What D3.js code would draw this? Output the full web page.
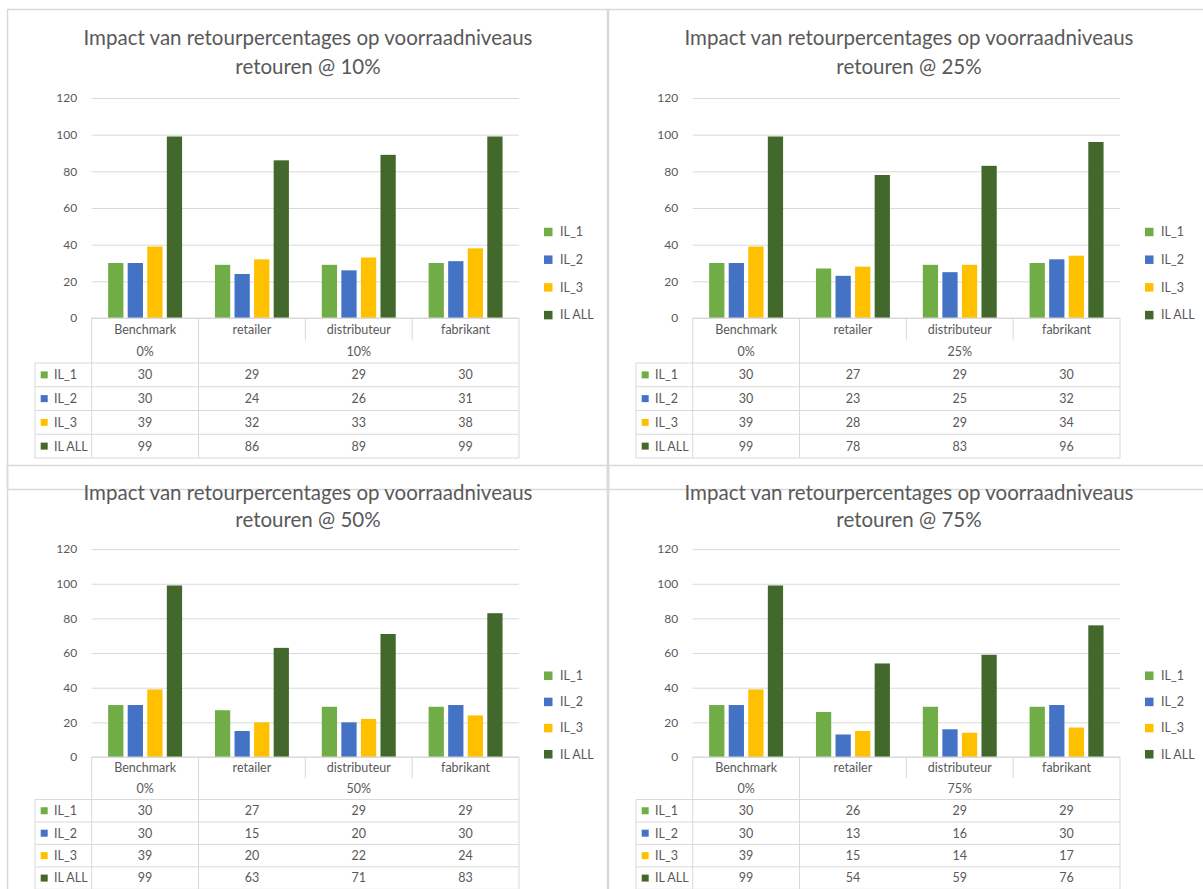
<!DOCTYPE html>
<html>
<head>
<meta charset="utf-8">
<script src="https://cdn.jsdelivr.net/npm/d3@7"></script>
<style>
  body { margin: 0; background: #fff; }
  svg text { font-family: Lato, "Open Sans", sans-serif; fill: #595959; }
</style>
</head>
<body>
<div id="grafiek"></div>
<script>
// Data
const categorieen = ["Benchmark", "retailer", "distributeur", "fabrikant"]
const reeksen = ["IL_1", "IL_2", "IL_3", "IL ALL"]
const kleuren = ["#70ad47", "#4472c4", "#ffc000", "#43682b"]
const yTicks = [0, 20, 40, 60, 80, 100, 120]
const titel = "Impact van retourpercentages op voorraadniveaus"

// rijen: IL_1, IL_2, IL_3, IL ALL / kolommen: categorieen
const waarden10 = [
  [30, 29, 29, 30],
  [30, 24, 26, 31],
  [39, 32, 33, 38],
  [99, 86, 89, 99],
]
const waarden25 = [
  [30, 27, 29, 30],
  [30, 23, 25, 32],
  [39, 28, 29, 34],
  [99, 78, 83, 96],
]
const waarden50 = [
  [30, 27, 29, 29],
  [30, 15, 20, 30],
  [39, 20, 22, 24],
  [99, 63, 71, 83],
]
const waarden75 = [
  [30, 26, 29, 29],
  [30, 13, 16, 30],
  [39, 15, 14, 17],
  [99, 54, 59, 76],
]

const svg = d3
  .select("#grafiek")
  .append("svg")
  .attr("width", 1203)
  .attr("height", 889)

const lijn = "#d9d9d9"
const fs = "12.5px"

const draw = (x0, y0, sy, retour, waarden) => {
  const Y = (v) => v * sy
  const g = svg.append("g").attr("transform", `translate(${x0}, ${y0})`)

  // kader
  g.append("rect")
    .attr("x", 0.5)
    .attr("y", 0.5)
    .attr("width", 600)
    .attr("height", 480)
    .attr("fill", "none")
    .attr("stroke", lijn)
    .attr("stroke-width", 1.5)

  // titel
  g.append("text")
    .attr("x", 301)
    .attr("y", Y(29))
    .attr("dy", "0.35em")
    .attr("text-anchor", "middle")
    .style("font-size", "20.5px")
    .text(titel)
  g.append("text")
    .attr("x", 301)
    .attr("y", Y(58))
    .attr("dy", "0.35em")
    .attr("text-anchor", "middle")
    .style("font-size", "20.5px")
    .text("retouren @ " + retour)

  // schalen
  const x = d3.scaleBand().domain(categorieen).range([84.7, 512])
  const x1 = d3
    .scaleBand()
    .domain(reeksen)
    .range([0, x.bandwidth()])
    .paddingInner(0.22)
    .paddingOuter(0.84)
  const y = d3.scaleLinear().domain([0, 120]).range([Y(309), Y(89)])

  // rasterlijnen + labels
  const as = g
    .append("g")
    .attr("transform", `translate(${x.range()[0]}, 0)`)
    .call(
      d3
        .axisLeft(y)
        .tickValues(yTicks)
        .tickSize(-(x.range()[1] - x.range()[0]))
        .tickPadding(14.5)
    )
  as.select(".domain").remove()
  as.selectAll("line").attr("stroke", lijn)
  as.selectAll("text").style("font-size", "12px").attr("fill", "#595959")

  // staven
  reeksen.forEach((r, j) => {
    g.append("g")
      .selectAll("rect")
      .data(waarden[j])
      .join("rect")
      .attr("x", (d, i) => x(categorieen[i]) + x1(r))
      .attr("y", (d) => y(d))
      .attr("width", x1.bandwidth())
      .attr("height", (d) => y(0) - y(d))
      .attr("fill", kleuren[j])
  })

  // tabel
  const top = Y(309)
  const h1 = Y(331.5)
  const rijen = [354, 377.75, 401.5, 425.25, 449].map(Y)
  const links = 28
  const [xa, xb] = x.range()
  const t = g.append("g").attr("stroke", lijn).attr("stroke-width", 1)
  const hl = (x1_, x2_, yy) =>
    t.append("line").attr("x1", x1_).attr("x2", x2_).attr("y1", yy).attr("y2", yy)
  const vl = (xx, y1_, y2_) =>
    t.append("line").attr("x1", xx).attr("x2", xx).attr("y1", y1_).attr("y2", y2_)

  hl(xa, xb, top)
  rijen.forEach((ry) => hl(links, xb, ry))
  vl(links, rijen[0], rijen[4])
  vl(xa, top, rijen[4])
  vl(x("retailer"), top, rijen[4])
  vl(x("distributeur"), top, h1)
  vl(x("fabrikant"), top, h1)
  vl(xb, top, rijen[4])

  // koppen
  g.append("g")
    .selectAll("text")
    .data(categorieen)
    .join("text")
    .attr("x", (d) => x(d) + x.bandwidth() / 2)
    .attr("y", (top + h1) / 2)
    .attr("dy", "0.35em")
    .attr("text-anchor", "middle")
    .style("font-size", fs)
    .text((d) => d)

  const midden = (h1 + rijen[0]) / 2
  g.append("text")
    .attr("x", x("Benchmark") + x.bandwidth() / 2)
    .attr("y", midden)
    .attr("dy", "0.35em")
    .attr("text-anchor", "middle")
    .style("font-size", fs)
    .text("0%")
  g.append("text")
    .attr("x", (x("retailer") + xb) / 2)
    .attr("y", midden)
    .attr("dy", "0.35em")
    .attr("text-anchor", "middle")
    .style("font-size", fs)
    .text(retour)

  // rijen met waarden
  reeksen.forEach((r, j) => {
    const cy = (rijen[j] + rijen[j + 1]) / 2
    g.append("rect")
      .attr("x", 33.7)
      .attr("y", cy - 3.5)
      .attr("width", 7)
      .attr("height", 7)
      .attr("fill", kleuren[j])
    g.append("text")
      .attr("x", 47)
      .attr("y", cy)
      .attr("dy", "0.35em")
      .style("font-size", fs)
      .text(r)
    g.append("g")
      .selectAll("text")
      .data(waarden[j])
      .join("text")
      .attr("x", (d, i) => x(categorieen[i]) + x.bandwidth() / 2)
      .attr("y", cy)
      .attr("dy", "0.35em")
      .attr("text-anchor", "middle")
      .style("font-size", fs)
      .text((d) => d)
  })

  // legenda
  const leg = g
    .append("g")
    .selectAll("g")
    .data(reeksen)
    .join("g")
    .attr("transform", (d, j) => `translate(537, ${Y(223 + j * 27.7)})`)
  leg
    .append("rect")
    .attr("y", -4.25)
    .attr("width", 8.5)
    .attr("height", 8.5)
    .attr("fill", (d, j) => kleuren[j])
  leg
    .append("text")
    .attr("x", 16)
    .attr("dy", "0.35em")
    .style("font-size", fs)
    .text((d) => d)
}

draw(7, 9, 1, "10%", waarden10)
draw(608, 9, 1, "25%", waarden25)
draw(7, 465, 0.945, "50%", waarden50)
draw(608, 465, 0.945, "75%", waarden75)
</script>
</body>
</html>
